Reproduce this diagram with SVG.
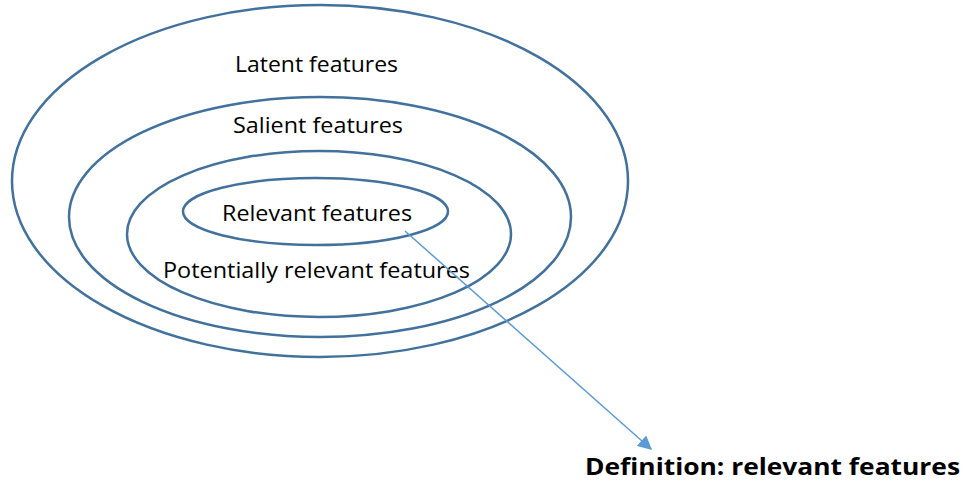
<svg xmlns="http://www.w3.org/2000/svg" width="973" height="482" viewBox="0 0 973 482">
<style>
.ring{fill:none;stroke:#41719C;stroke-width:2.5}
.lbl{font-family:"Open Sans","Liberation Sans",sans-serif;font-size:22px;fill:#000;text-anchor:middle}
.def{font-family:"Open Sans","Liberation Sans",sans-serif;font-size:24px;font-weight:bold;fill:#000}
.conn{stroke:#5B9BD5;stroke-width:1.5;fill:none}
</style>
<defs>
<marker id="ah" viewBox="0 0 10 10" refX="9" refY="5" markerWidth="15" markerHeight="14" markerUnits="userSpaceOnUse" orient="auto">
<path d="M0,0 L10,5 L0,10 z" fill="#5B9BD5"/>
</marker>
</defs>
<g id="latent">
<ellipse class="ring" cx="320" cy="181" rx="308" ry="176"/>
<text class="lbl" x="316.5" y="72" textLength="163" lengthAdjust="spacingAndGlyphs">Latent features</text>
</g>
<g id="salient">
<ellipse class="ring" cx="320" cy="217" rx="251" ry="120"/>
<text class="lbl" x="318" y="133" textLength="170" lengthAdjust="spacingAndGlyphs">Salient features</text>
</g>
<g id="potential">
<ellipse class="ring" cx="319" cy="234" rx="192" ry="83"/>
<text class="lbl" x="316.5" y="278" textLength="307" lengthAdjust="spacingAndGlyphs">Potentially relevant features</text>
</g>
<g id="relevant">
<ellipse class="ring" cx="315.5" cy="211.5" rx="132.5" ry="33.5"/>
<text class="lbl" x="317" y="221" textLength="190" lengthAdjust="spacingAndGlyphs">Relevant features</text>
</g>
<g id="connectors">
<path class="conn" d="M405,231 L651,449" marker-end="url(#ah)"/>
</g>
<g id="definition">
<text class="def" x="585" y="475" textLength="375" lengthAdjust="spacingAndGlyphs">Definition: relevant features</text>
</g>
</svg>
